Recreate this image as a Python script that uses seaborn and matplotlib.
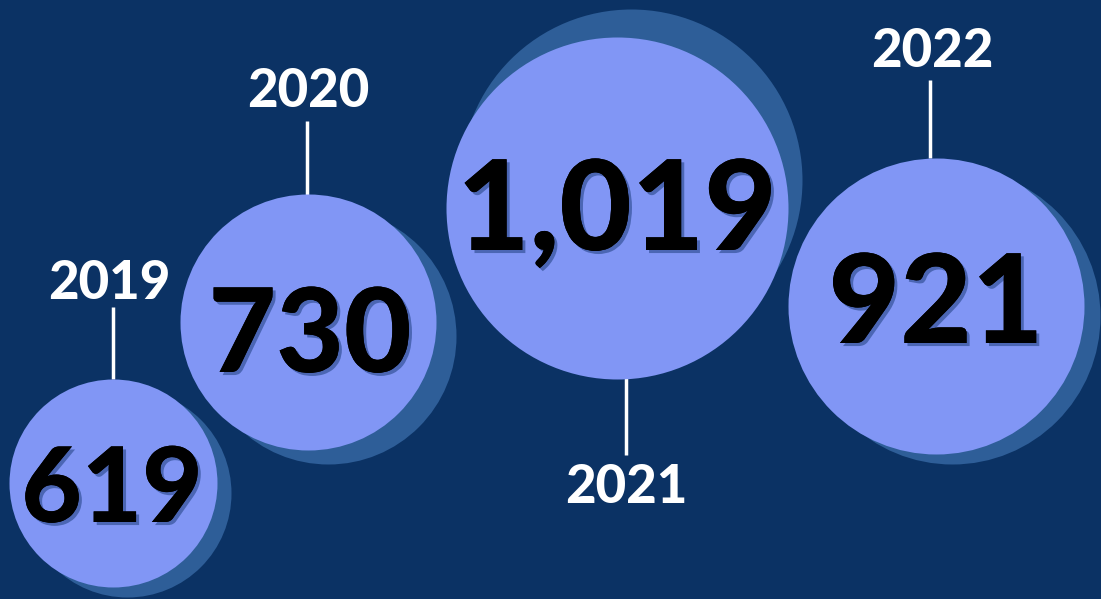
import matplotlib
matplotlib.use("Agg")
import matplotlib.pyplot as plt
import matplotlib.patheffects as pe
import seaborn as sns
import pandas as pd

# ---- data ----
years = ["2019", "2020", "2021", "2022"]
values = [619, 730, 1019, 921]

# ---- layout (pixels) ----
cx = [113, 308, 617, 936]
cy = [483, 322, 208, 306]
radius = [104, 128, 171, 148]
shadow_dx = [14, 20, 14, 16]
shadow_dy = [10, 14, -28, 10]
num_x = [112, 310, 617, 936]
num_base = [522, 372, 250, 343]
num_size = [75, 84, 90, 89]
lbl_x = [109, 308, 626, 932]
lbl_base = [299, 107, 503, 67]
line_x = [113, 307, 626, 930]
line_y0 = [307, 121, 378, 80]
line_y1 = [379, 195, 455, 158]

BG = "#0b3264"
CIRCLE = "#8196f5"
SHADOW = "#2e5e98"

sns.set_theme(style="white")
plt.rcParams["font.family"] = ["Lato", "DejaVu Sans"]

W, H = 1101, 599
fig = plt.figure(figsize=(W / 100, H / 100), dpi=100, facecolor=BG)
ax = fig.add_axes([0, 0, 1, 1])
ax.set_facecolor(BG)
ax.set_xlim(0, W)
ax.set_ylim(H, 0)
ax.set_axis_off()

def s_of(r):
    return (2 * r * 72 / 100) ** 2

df = pd.DataFrame({
    "year": years, "value": values,
    "x": cx, "y": cy, "r": radius,
    "sx": [a + b for a, b in zip(cx, shadow_dx)],
    "sy": [a + b for a, b in zip(cy, shadow_dy)],
})
df["s"] = [s_of(r) for r in radius]

# connector lines
for x, y0, y1 in zip(line_x, line_y0, line_y1):
    ax.plot([x, x], [y0, y1], color="white", lw=2.5, solid_capstyle="butt", zorder=1)

# shadows then circles, drawn in order so later circles overlap properly
for i in range(len(df)):
    row = df.iloc[[i]]
    sns.scatterplot(data=row, x="sx", y="sy", s=row["s"].values, color=SHADOW,
                    linewidth=0, ax=ax, legend=False, zorder=2 + 2 * i)
    sns.scatterplot(data=row, x="x", y="y", s=row["s"].values, color=CIRCLE,
                    linewidth=0, ax=ax, legend=False, zorder=3 + 2 * i)

ax.set_xlim(0, W)
ax.set_ylim(H, 0)
ax.set_xlabel("")
ax.set_ylabel("")

shadow_fx = [pe.withSimplePatchShadow(offset=(2.2, -2.2), shadow_rgbFace="#27468a", alpha=0.6),
             pe.Normal()]

for i, (v, yr) in enumerate(zip(values, years)):
    ax.text(num_x[i], num_base[i], f"{v:,}", ha="center", va="baseline",
            fontsize=num_size[i], fontweight="black", color="black",
            path_effects=shadow_fx, zorder=20)
    ax.text(lbl_x[i], lbl_base[i], yr, ha="center", va="baseline",
            fontsize=38, fontweight="black", color="white", zorder=20)

fig.savefig("out.png", dpi=100, facecolor=BG)
